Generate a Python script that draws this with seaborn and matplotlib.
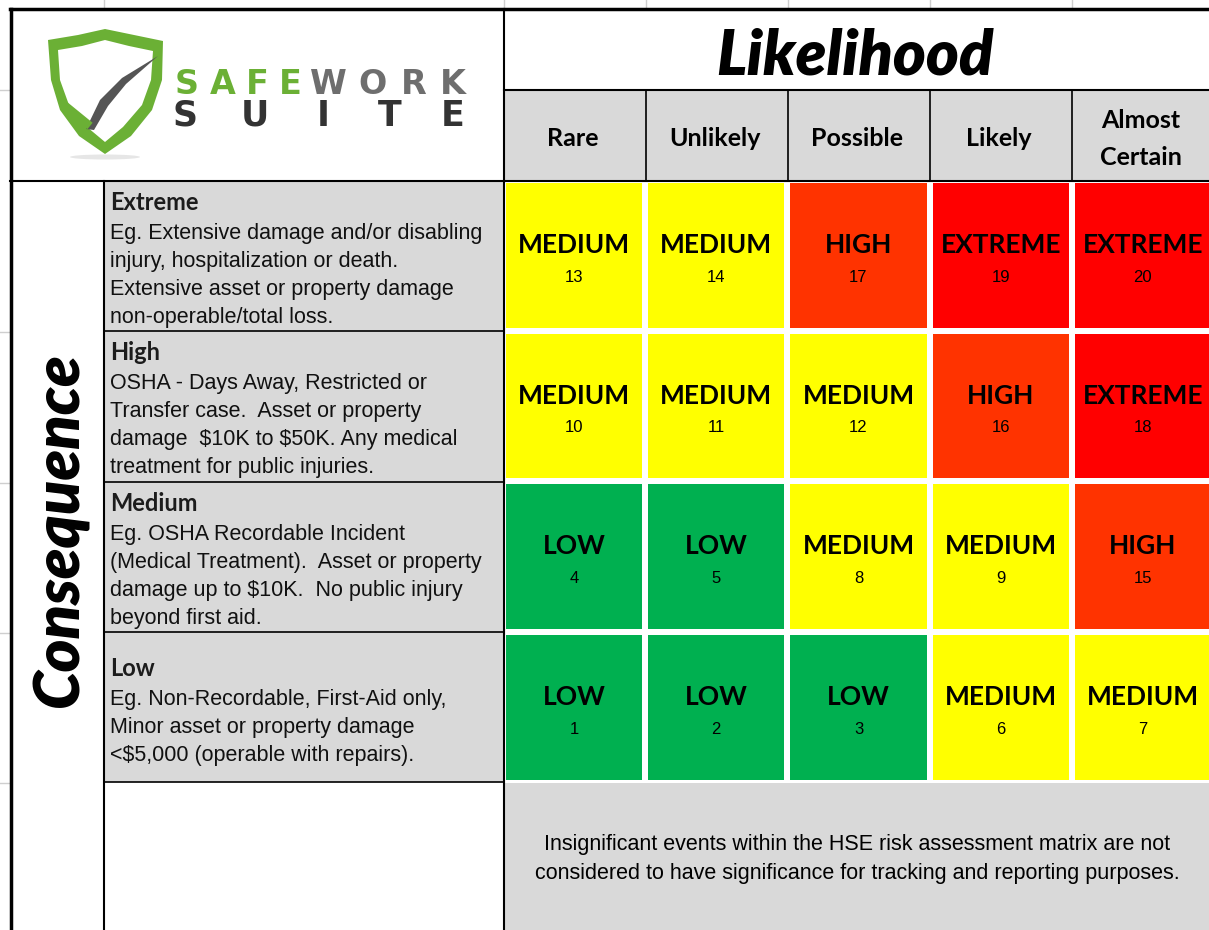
import numpy as np
import pandas as pd
import matplotlib
matplotlib.use("Agg")
import matplotlib.pyplot as plt
import seaborn as sns
from matplotlib.colors import ListedColormap
from matplotlib.patches import Polygon, Rectangle, Ellipse

# --- data -------------------------------------------------------------
likelihood = ["Rare", "Unlikely", "Possible", "Likely", "Almost\nCertain"]
consequence = ["Extreme", "High", "Medium", "Low"]
descriptions = [
    ["Eg. Extensive damage and/or disabling",
     "injury, hospitalization or death.",
     "Extensive asset or property damage",
     "non-operable/total loss."],
    ["OSHA - Days Away, Restricted or",
     "Transfer case.  Asset or property",
     "damage  $10K to $50K. Any medical",
     "treatment for public injuries."],
    ["Eg. OSHA Recordable Incident",
     "(Medical Treatment).  Asset or property",
     "damage up to $10K.  No public injury",
     "beyond first aid."],
    ["Eg. Non-Recordable, First-Aid only,",
     "Minor asset or property damage",
     "<$5,000 (operable with repairs)."],
]
risk_level = [
    ["MEDIUM", "MEDIUM", "HIGH", "EXTREME", "EXTREME"],
    ["MEDIUM", "MEDIUM", "MEDIUM", "HIGH", "EXTREME"],
    ["LOW", "LOW", "MEDIUM", "MEDIUM", "HIGH"],
    ["LOW", "LOW", "LOW", "MEDIUM", "MEDIUM"],
]
risk_score = [
    [13, 14, 17, 19, 20],
    [10, 11, 12, 16, 18],
    [4, 5, 8, 9, 15],
    [1, 2, 3, 6, 7],
]
levels = ["LOW", "MEDIUM", "HIGH", "EXTREME"]
level_colors = ["#00B050", "#FFFF00", "#FF3300", "#FF0000"]
footnote = ["Insignificant events within the HSE risk assessment matrix are not",
            "considered to have significance for tracking and reporting purposes."]

GRAY = "#d9d9d9"
BOLD = "Lato"
BODY = "Liberation Sans"

codes = pd.DataFrame([[levels.index(v) for v in row] for row in risk_level],
                     index=consequence, columns=likelihood)

W, H = 1209, 930
fig = plt.figure(figsize=(W / 100, H / 100), dpi=100)
fig.patch.set_facecolor("white")

# background axes in pixel coords
bg = fig.add_axes([0, 0, 1, 1], zorder=0)
bg.set_xlim(0, W)
bg.set_ylim(H, 0)
bg.axis("off")

col_x = [504, 646, 788, 930, 1072, 1214]
row_y = [181, 331, 482, 632, 782]

# spreadsheet gridlines outside the frame
for x in [104, 504, 646, 788, 930, 1072]:
    bg.plot([x, x], [0, 8], color="#cfcfcf", lw=1)
for y in [90, 332, 483, 633, 783]:
    bg.plot([0, 10], [y, y], color="#cfcfcf", lw=1)

# grey fills
bg.add_patch(Rectangle((504, 90), W - 504, 91, color=GRAY, lw=0))
bg.add_patch(Rectangle((104, 181), 400, 601, color=GRAY, lw=0))
bg.add_patch(Rectangle((504, 782), W - 504, H - 782, color=GRAY, lw=0))

# --- heatmap ----------------------------------------------------------
hm = fig.add_axes([503 / W, (H - 783) / H, (1214 - 503) / W, (783 - 180) / H], zorder=1)
sns.heatmap(codes, ax=hm, cmap=ListedColormap(level_colors), vmin=-0.5, vmax=3.5,
            cbar=False, linewidths=3, linecolor="white",
            xticklabels=False, yticklabels=False)
hm.set_xlabel("")
hm.set_ylabel("")
for i in range(len(consequence)):
    for j in range(len(likelihood)):
        hm.text(j + 0.5, i + 0.43, risk_level[i][j], ha="center", va="center",
                fontsize=19, fontweight="bold", family=BOLD, color="black")
        hm.text(j + 0.5, i + 0.645, str(risk_score[i][j]), ha="center", va="center",
                fontsize=12, family=BODY, color="black")

# --- overlay: borders and text ---------------------------------------
ov = fig.add_axes([0, 0, 1, 1], zorder=2)
ov.set_xlim(0, W)
ov.set_ylim(H, 0)
ov.axis("off")
ov.patch.set_alpha(0)

k = "black"
ov.plot([10, W], [9, 9], color=k, lw=2.5)
ov.plot([11, 11], [9, H], color=k, lw=2.5)
ov.plot([10, W], [181, 181], color=k, lw=1.5)
ov.plot([504, W], [90, 90], color=k, lw=1.5)
ov.plot([504, 504], [9, H], color=k, lw=1.5)
ov.plot([104, 104], [181, H], color=k, lw=1.5)
for x in col_x[1:-1]:
    ov.plot([x, x], [90, 181], color=k, lw=1.2)
for y in row_y[1:]:
    ov.plot([104, 504], [y, y], color=k, lw=1.2)

# title texts
ov.text(855, 56, "Likelihood", ha="center", va="center", fontsize=45,
        fontweight="heavy", fontstyle="italic", family=BOLD)
ov.text(60, 530, "Consequence", ha="center", va="center", rotation=90,
        fontsize=45, fontweight="heavy", fontstyle="italic", family=BOLD)

# column headers
for j, lab in enumerate(likelihood):
    ov.text((col_x[j] + col_x[j + 1]) / 2 - 2, 139, lab, ha="center", va="center",
            fontsize=18, fontweight="bold", family=BOLD, linespacing=1.75)

# consequence descriptions
for i, name in enumerate(consequence):
    top = row_y[i]
    off = 21 if i < 3 else 36
    ov.text(110, top + off, name, ha="left", va="center", fontsize=17,
            fontweight="bold", family=BOLD, color="#1c1c1c")
    for n, line in enumerate(descriptions[i]):
        ov.text(110, top + off + 31 + 28 * n, line, ha="left", va="center",
                fontsize=15.5, family=BODY, color="#111111", parse_math=False)

for n, line in enumerate(footnote):
    ov.text(857, 844 + 29 * n, line, ha="center", va="center", fontsize=15.5,
            family=BODY, parse_math=False)

# --- logo -------------------------------------------------------------
green = "#6bb035"
outer = [(48, 40), (78, 35), (105, 29), (134, 35), (163, 41), (162, 80),
         (152, 110), (131, 136), (105, 154), (79, 136), (60, 110), (51, 80)]
inner = [(58, 50), (82, 46), (105, 40), (129, 46), (153, 51), (151, 80),
         (142, 105), (123, 127), (105, 142), (87, 127), (69, 105), (60, 80)]
ov.add_patch(Ellipse((105, 157), 70, 5, color="#e6e6e6", lw=0))
ov.add_patch(Polygon(outer, closed=True, color=green, lw=0))
ov.add_patch(Polygon(inner, closed=True, color="white", lw=0))
ov.plot([63, 90], [104, 126], color=green, lw=6, solid_capstyle="butt")
swoosh = [(86, 129), (100, 100), (122, 78), (158, 56), (126, 84), (108, 106), (94, 130)]
ov.add_patch(Polygon(swoosh, closed=True, color="#555555", lw=0))

for ch, cx in zip("SAFE", [187, 223, 257, 290]):
    ov.text(cx, 85, ch, ha="center", va="center", fontsize=24, fontweight="bold",
            family="DejaVu Sans", color=green)
for ch, cx in zip("WORK", [328, 373, 414, 453]):
    ov.text(cx, 85, ch, ha="center", va="center", fontsize=24, fontweight="bold",
            family="DejaVu Sans", color="#6e6e6e")
for ch, cx in zip("SUITE", [185, 255, 323, 390, 453]):
    ov.text(cx, 116, ch, ha="center", va="center", fontsize=25, fontweight="bold",
            family="DejaVu Sans", color="#333333")

fig.savefig("out.png", dpi=100)
